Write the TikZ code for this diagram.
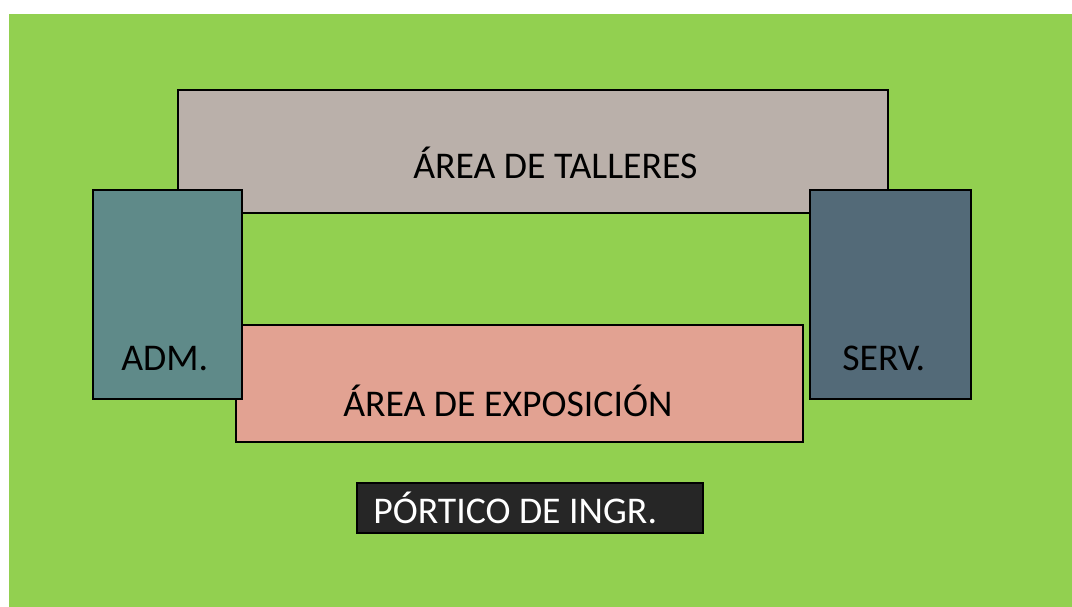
\documentclass[tikz,border=0pt]{standalone}
\usepackage{fontspec}
\setmainfont{Carlito}
\definecolor{cesped}{RGB}{146,208,80}
\definecolor{taller}{RGB}{186,176,170}
\definecolor{admin}{RGB}{95,138,137}
\definecolor{servicio}{RGB}{83,106,120}
\definecolor{expo}{RGB}{226,162,146}
\definecolor{portico}{RGB}{38,38,38}
\tikzset{
  zona/.style={draw=black, line width=1.1pt, inner sep=0pt},
  rotulo/.style={anchor=base west, inner sep=0pt, font=\fontsize{28.3}{34}\selectfont}
}
\begin{document}
\begin{tikzpicture}[x=0.75pt, y=-0.75pt]
  \useasboundingbox (0,0) rectangle (1072,607);
  \fill[white] (0,0) rectangle (1072,607);
  \fill[cesped] (9,14) rectangle (1072,607);
  % bloques
  \draw[zona, fill=taller] (178,90) rectangle (888,213);
  \draw[zona, fill=expo] (236,325) rectangle (803,442);
  \draw[zona, fill=admin] (93,190) rectangle (242,399);
  \draw[zona, fill=servicio] (810,190) rectangle (971,399);
  \draw[zona, fill=portico] (357,483) rectangle (703,533);
  % rotulos
  \node[rotulo] (talleres) at (413,178) {ÁREA DE TALLERES};
  \node[rotulo] (exposicion) at (343,416) {ÁREA DE EXPOSICIÓN};
  \node[rotulo] (adm) at (121,370) {ADM.};
  \node[rotulo] (serv) at (842,370) {SERV.};
  \node[rotulo, text=white] (ingreso) at (373,523) {PÓRTICO DE INGR.};
\end{tikzpicture}
\end{document}
